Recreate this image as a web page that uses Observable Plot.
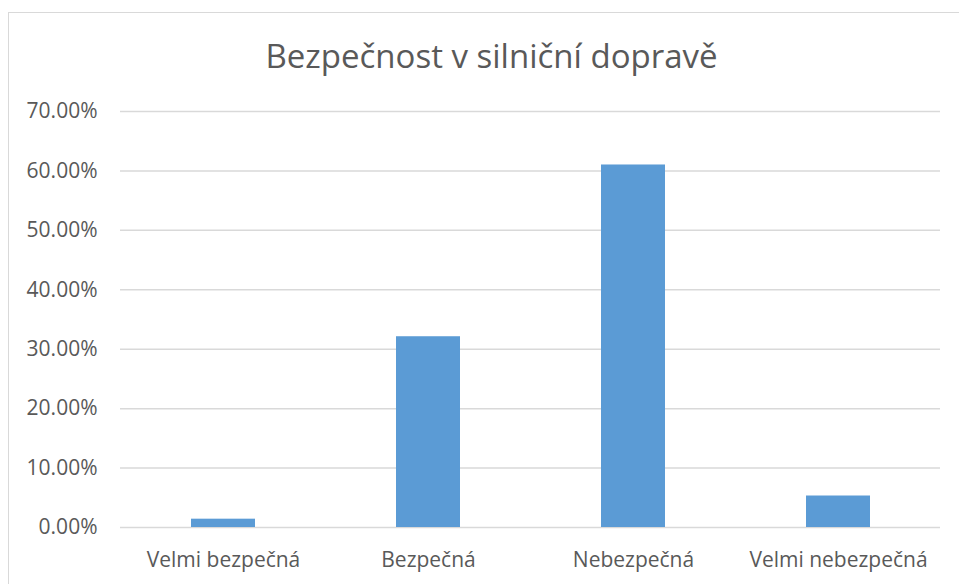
<!DOCTYPE html>
<html>
<head>
<meta charset="utf-8">
<script src="https://cdn.jsdelivr.net/npm/d3@7"></script>
<script src="https://cdn.jsdelivr.net/npm/@observablehq/plot@0.6"></script>
<style>
  html, body { margin: 0; padding: 0; background: #fff; overflow: hidden; }
  body { width: 959px; height: 584px; position: relative; font-family: "Open Sans", sans-serif; }
  #frame { position: absolute; left: 8px; top: 12px; width: 966px; height: 600px; border: 1px solid #d9d9d9; box-sizing: border-box; }
  #title { position: absolute; left: 8px; width: 967px; top: 34px; text-align: center; font-size: 33px; color: #595959; line-height: 44px; }
  #chart { position: absolute; left: 0; top: 90px; }
</style>
</head>
<body>
<div id="frame"></div>
<div id="title">Bezpečnost v silniční dopravě</div>
<div id="chart"></div>
<script>
const categories = ["Velmi bezpečná", "Bezpečná", "Nebezpečná", "Velmi nebezpečná"];
const values = [0.014, 0.321, 0.610, 0.053];
const yTicks = [0, 0.1, 0.2, 0.3, 0.4, 0.5, 0.6, 0.7];

const data = categories.map((c, i) => ({category: c, value: values[i]}));

const chart = Plot.plot({
  width: 959,
  height: 494,
  marginTop: 21,
  marginBottom: 57,
  marginLeft: 120,
  marginRight: 19,
  style: {background: "transparent", color: "#595959", fontFamily: "'Open Sans', sans-serif", fontSize: "21px"},
  x: {domain: categories, paddingInner: 0.688, paddingOuter: 0.344, label: null, tickSize: 0, tickPadding: 25},
  y: {domain: [0, 0.7], ticks: yTicks, tickFormat: d3.format(".2%"), label: null, tickSize: 0, tickPadding: 23},
  marks: [
    Plot.gridY(yTicks, {stroke: "#d9d9d9", strokeOpacity: 1, strokeWidth: 1.5}),
    Plot.barY(data, {x: "category", y: "value", fill: "#5b9bd5"}),
    Plot.axisX({tickSize: 0, tickPadding: 25, fontSize: 21}),
    Plot.axisY({ticks: yTicks, tickFormat: d3.format(".2%"), tickSize: 0, tickPadding: 23, fontSize: 21})
  ]
});
document.getElementById("chart").appendChild(chart);
</script>
</body>
</html>
